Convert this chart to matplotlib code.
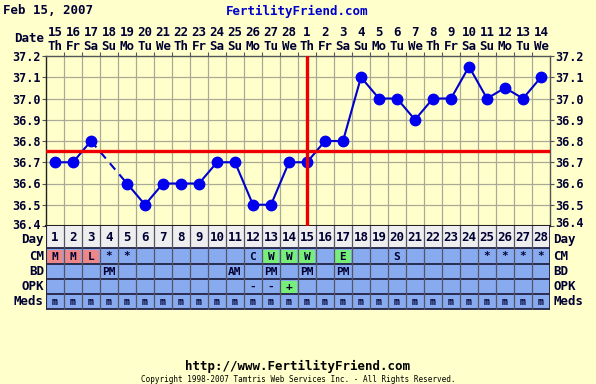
import matplotlib
matplotlib.use("Agg")
import matplotlib.pyplot as plt
from matplotlib.patches import Rectangle
from matplotlib.transforms import ScaledTranslation
import numpy as np

# ---------------- data ----------------
cycle_days = list(range(1, 29))
dates = [15, 16, 17, 18, 19, 20, 21, 22, 23, 24, 25, 26, 27, 28,
         1, 2, 3, 4, 5, 6, 7, 8, 9, 10, 11, 12, 13, 14]
weekdays = ["Th", "Fr", "Sa", "Su", "Mo", "Tu", "We"] * 4
temps = [36.7, 36.7, 36.8, None, 36.6, 36.5, 36.6, 36.6, 36.6, 36.7,
         36.7, 36.5, 36.5, 36.7, 36.7, 36.8, 36.8, 37.1, 37.0, 37.0,
         36.9, 37.0, 37.0, 37.15, 37.0, 37.05, 37.0, 37.1]
cm = ["M", "M", "L", "*", "*", "", "", "", "", "", "", "C", "W", "W",
      "W", "", "E", "", "", "S", "", "", "", "", "*", "*", "*", "*"]
cm_colors = {"M": "#ee8888", "L": "#ee8888", "W": "#77ee77", "E": "#77ee77"}
bd = ["", "", "", "PM", "", "", "", "", "", "", "AM", "", "PM", "",
      "PM", "", "PM", "", "", "", "", "", "", "", "", "", "", ""]
opk = ["", "", "", "", "", "", "", "", "", "", "", "-", "-", "+",
       "", "", "", "", "", "", "", "", "", "", "", "", "", ""]
opk_colors = {"+": "#77ee77"}
meds = ["m"] * 28
y_ticks = [36.4, 36.5, 36.6, 36.7, 36.8, 36.9, 37.0, 37.1, 37.2]
coverline = 36.755
ovulation_day = 15
title_left = "Feb 15, 2007"
title_center = "FertilityFriend.com"
footer_url = "http://www.FertilityFriend.com"
footer_copy = "Copyright 1998-2007 Tamtris Web Services Inc. - All Rights Reserved."

# ---------------- style ----------------
W, H = 596, 384
BG = "#ffffcc"
FONT = "DejaVu Sans Mono"
TXT = "#000033"
fig = plt.figure(figsize=(W / 100, H / 100), dpi=100, facecolor=BG)

def fx(px):
    return px / W

def fy(py):
    return 1 - py / H

L, R, T, B = 46, 550, 56, 226
ax = fig.add_axes([fx(L), fy(B), fx(R - L), (B - T) / H])
ax.set_facecolor(BG)
ax.set_xlim(0.5, 28.5)
ax.set_ylim(36.4, 37.2)

# grid
for xb in np.arange(1.5, 28.5, 1):
    ax.axvline(xb, color="#aaaa99", lw=0.9, zorder=1)
for yv in y_ticks[1:-1]:
    ax.axhline(yv, color="#aaaa99", lw=0.9, zorder=1)

# temperature line
xs = np.array(cycle_days, dtype=float)
ys = np.array([np.nan if t is None else t for t in temps])
ax.plot(xs, ys, color="#0000cc", lw=1.5, zorder=4)
ax.plot(xs, ys, "o", color="#0000ee", ms=7.5, zorder=5)
# dashed segment over missing day
for i in range(len(ys)):
    if np.isnan(ys[i]):
        a = i - 1
        b = i + 1
        while b < len(ys) and np.isnan(ys[b]):
            b += 1
        ax.plot([xs[a], xs[b]], [ys[a], ys[b]], color="#0000cc", lw=1.5,
                ls=(0, (4, 3)), zorder=3)

ax.axhline(coverline, color="#ee0000", lw=2.4, zorder=6)
ax.axvline(ovulation_day, color="#ee0000", lw=2.4, zorder=6)

ax.set_yticks(y_ticks)
ax.set_yticklabels([f"{v:.1f}" for v in y_ticks], fontsize=8.5, fontweight="bold",
                   family=FONT, color=TXT)
ax.tick_params(axis="y", left=True, right=True, labelleft=True, labelright=True,
               length=3, width=0.8, color="#555555", pad=1)
# lift the lowest labels a little so they do not touch the table labels
shift = ScaledTranslation(0, 2 / 100, fig.dpi_scale_trans)
for lab in ax.get_yticklabels(which="both"):
    pass
ax.set_xticks(np.arange(1.5, 28.5, 1))
ax.tick_params(axis="x", bottom=False, top=True, labelbottom=False, labeltop=False,
               length=3, width=0.8, color="#555555", direction="out")
for s in ax.spines.values():
    s.set_color("#555555")
    s.set_linewidth(1)
ax.spines["left"].set_color("#222222")
ax.spines["bottom"].set_color("#222222")
ax.spines["bottom"].set_linewidth(1.5)

fig.canvas.draw()
for t in ax.yaxis.get_majorticklabels() + [tk.label2 for tk in ax.yaxis.get_major_ticks()]:
    if t.get_text() == "36.4":
        t.set_transform(t.get_transform() + shift)

# header texts
fig.text(fx(3), fy(11), title_left, fontsize=9, fontweight="bold", family=FONT,
         color=TXT, va="center", ha="left")
fig.text(fx(297), fy(11), title_center, fontsize=9, fontweight="bold", family=FONT,
         color="#0000cc", va="center", ha="center")
fig.text(fx(44), fy(39), "Date", fontsize=9, fontweight="bold", family=FONT,
         color=TXT, va="center", ha="right")
for d, dt, wd in zip(cycle_days, dates, weekdays):
    cx = L + (d - 0.5) * 18
    fig.text(fx(cx), fy(32), str(dt), fontsize=9, fontweight="bold", family=FONT,
             color=TXT, va="center", ha="center")
    fig.text(fx(cx), fy(46), wd, fontsize=9, fontweight="bold", family=FONT,
             color=TXT, va="center", ha="center")

# ---------------- table ----------------
tax = fig.add_axes([fx(L), fy(310), fx(R - L), (310 - B) / H])
tax.set_xlim(0.5, 28.5)
tax.set_ylim(310, B)
tax.axis("off")
rows = [("Day", B, 248), ("CM", 248, 264), ("BD", 264, 279),
        ("OPK", 279, 294), ("Meds", 294, 309)]
row_data = {"Day": [str(d) for d in cycle_days], "CM": cm, "BD": bd,
            "OPK": opk, "Meds": meds}
row_colors = {"CM": cm_colors, "OPK": opk_colors}
for name, y0, y1 in rows:
    vals = row_data[name]
    for i, v in enumerate(vals):
        x0 = i + 0.5
        if name == "Day":
            base = "#eeeeee"
        else:
            base = "#88aaee"
        tax.add_patch(Rectangle((x0, y0), 1, y1 - y0, facecolor=base,
                                edgecolor="none", zorder=1))
        hl = row_colors.get(name, {}).get(v)
        if hl:
            tax.add_patch(Rectangle((x0 + 0.08, y0 + 1.5), 0.84, y1 - y0 - 3,
                                    facecolor=hl, edgecolor="none", zorder=2))
        if v:
            fs = 9 if name == "Day" else 8
            if name == "Meds":
                fs = 7
            tax.text(i + 1, (y0 + y1) / 2 + 0.5, v, fontsize=fs, fontweight="bold",
                     family=FONT, color=TXT, ha="center", va="center", zorder=3)
    tax.plot([0.5, 28.5], [y1, y1], color="#222244", lw=1.3, zorder=4,
             solid_capstyle="butt")
    ly = (y0 + y1) / 2 + (2 if name == "Day" else 0)
    fig.text(fx(44), fy(ly), name, fontsize=9, fontweight="bold",
             family=FONT, color=TXT, ha="right", va="center")
    fig.text(fx(553), fy(ly), name, fontsize=9, fontweight="bold",
             family=FONT, color=TXT, ha="left", va="center")
for xb in np.arange(0.5, 29.5, 1):
    tax.plot([xb, xb], [B, 309], color="#555566", lw=0.9, zorder=4)
tax.plot([0.5, 0.5], [B, 309], color="#222244", lw=1.3, zorder=4)
tax.plot([28.5, 28.5], [B, 309], color="#222244", lw=1.3, zorder=4)

# footer
fig.text(fx(298), fy(366), footer_url, fontsize=9, fontweight="bold", family=FONT,
         color="#000000", ha="center", va="center")
fig.text(fx(298), fy(379), footer_copy, fontsize=5.5, family=FONT,
         color="#000000", ha="center", va="center")

fig.savefig("out.png", dpi=100, facecolor=BG)
